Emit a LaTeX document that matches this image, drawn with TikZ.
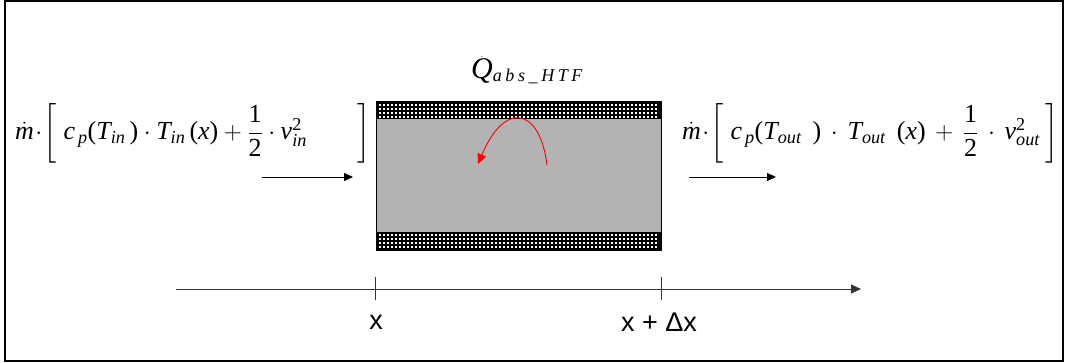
\documentclass[tikz,border=0pt]{standalone}
\usepackage{amsmath}
\usepackage{fontspec}
\setmainfont{Liberation Serif}
\newfontfamily\arialfont{Liberation Sans}
\usetikzlibrary{arrows.meta}
\definecolor{tubegray}{HTML}{B3B3B3}
\tikzset{
  frame/.style={draw=black,line width=1.5pt},
  flowarrow/.style={draw=black,line width=0.8pt,-{Triangle[length=9pt,width=8pt]}},
  axisline/.style={draw=black!80,line width=0.8pt},
  formula/.style={inner sep=0pt,font=\fontsize{26}{28}\selectfont},
  axlabel/.style={inner sep=0pt,font=\arialfont\fontsize{27}{29}\selectfont},
}
\newcommand{\ti}[1]{\textit{#1}}
\newcommand{\lp}{\text{(}}
\newcommand{\rp}{\text{)}}
\newcommand{\tallstrut}{\rule[-23pt]{0pt}{60pt}}
\begin{document}
\begin{tikzpicture}[x=1pt,y=-1pt]
\useasboundingbox (0,0) rectangle (1065,363);
\draw[frame] (5,1) rectangle (1063,361);
% tube
\node[draw=black,fill=tubegray,line width=1pt,minimum width=285pt,minimum height=148pt,inner sep=0pt,anchor=north west] (tube) at (376,102) {};
\fill[black] (376,102) rectangle (661,119);
\fill[black] (376,232) rectangle (661,250);
\foreach \i in {0,...,69}{
  \foreach \j in {0,...,3}{
    \fill[white] ({378.5+4*\i},{104+4*\j}) rectangle ++(2,2);
    \fill[white] ({378.5+4*\i},{234+4*\j}) rectangle ++(2,2);
  }
}
\draw[black,line width=1pt] (376,102) rectangle (661,250);
% heat label
\node[inner sep=0pt,anchor=base west] (qdot) at (471,79)
  {$\dot{\text{\fontsize{30}{32}\selectfont\ti{Q}}}$\raisebox{-3pt}{\fontsize{18}{20}\selectfont\addfontfeatures{LetterSpace=20}\itshape abs\_HTF}};
% formulas
\node[formula,anchor=west] (fin) at (15,133)
  {$\dot{\text{\ti{m}}}\!\cdot\!\left[\tallstrut\;\ti{c}_{\,\ti{p}}\lp\ti{T}_{\ti{in}}\,\rp\cdot\ti{T}_{\ti{in}}\,\lp\ti{x}\rp+\dfrac{\text{1}}{\text{2}}\cdot\ti{v}_{\ti{in}}^{\text{2}}\hspace{51pt}\right]$};
\node[formula,anchor=west] (fout) at (682,133)
  {$\dot{\text{\ti{m}}}\!\cdot\!\left[\tallstrut\;\ti{c}_{\,\ti{p}}\lp\ti{T}_{\ti{out}}\;\,\rp\,\cdot\,\ti{T}_{\ti{out}}\;\,\lp\ti{x}\rp\,+\,\dfrac{\text{1}}{\text{2}}\,\cdot\,\ti{v}_{\ti{out}}^{\text{2}}\hspace{6pt}\right]$};
% flow arrows
\coordinate (ina) at (262,177);
\coordinate (inb) at (353,177);
\coordinate (outa) at (689,177);
\coordinate (outb) at (776,177);
\draw[flowarrow] (ina) -- (inb);
\draw[flowarrow] (outa) -- (outb);
% red arc
\coordinate (ra) at (547,165);
\coordinate (rb) at (478,164);
\draw[red,line width=0.9pt,-{Triangle[length=10pt,width=9pt]}] (ra) .. controls (540,108) and (505,100) .. (rb);
% axis
\coordinate (axs) at (176,289);
\coordinate (axe) at (861,289);
\draw[axisline,-{Triangle[length=10pt,width=9pt]}] (axs) -- (axe);
\coordinate (t1a) at (375,277);
\coordinate (t1b) at (375,300);
\coordinate (t2a) at (661,277);
\coordinate (t2b) at (661,300);
\draw[axisline] (t1a) -- (t1b);
\draw[axisline] (t2a) -- (t2b);
\node[axlabel] (lx) at (376,322) {x};
\node[axlabel,anchor=west] (ldx) at (621,322) {x + Δx};
\end{tikzpicture}
\end{document}
